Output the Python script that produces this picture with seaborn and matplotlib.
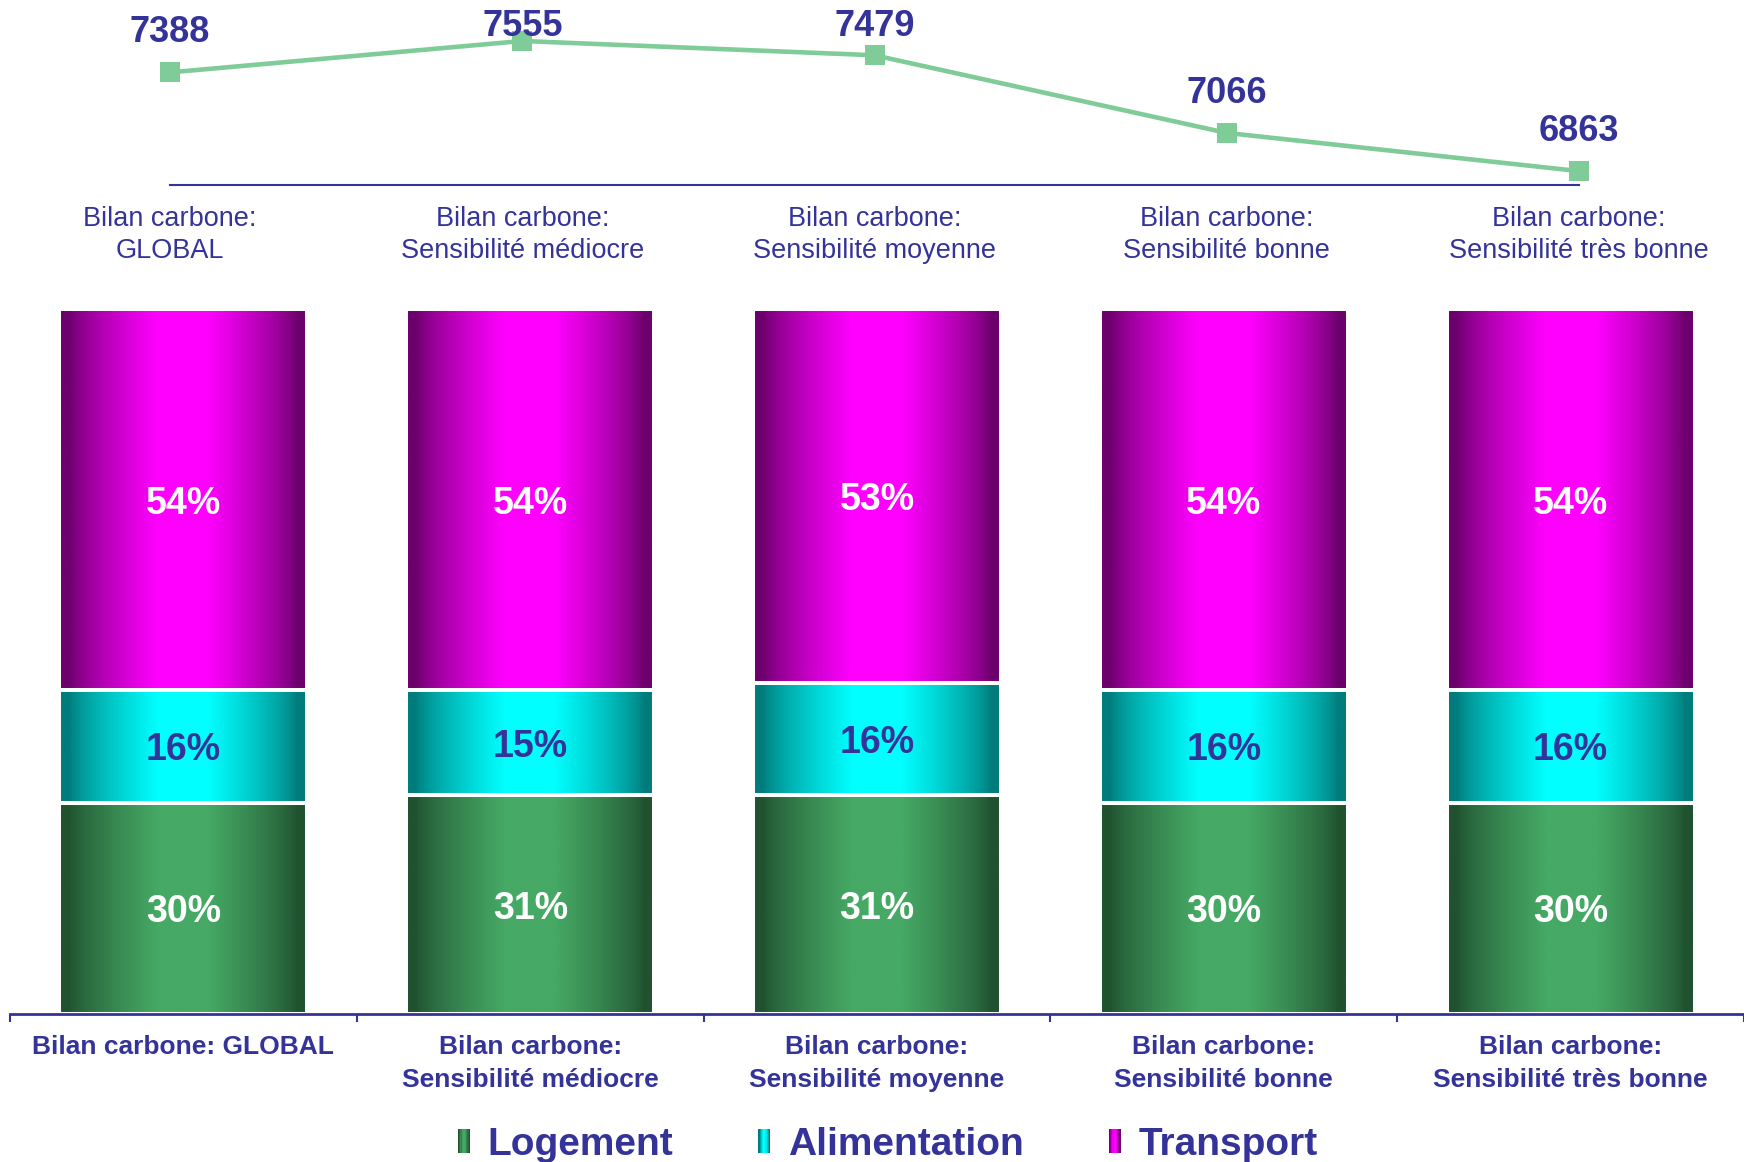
import numpy as np
import pandas as pd
import matplotlib
matplotlib.use("Agg")
import matplotlib.pyplot as plt
import seaborn as sns
from matplotlib.colors import to_rgb
from matplotlib.legend_handler import HandlerBase
from matplotlib.patches import Rectangle

# ---- data ----
group_keys = ["GLOBAL", "Médiocre", "Moyenne", "Bonne", "Très bonne"]
labels_top = ["Bilan carbone:\nGLOBAL",
              "Bilan carbone:\nSensibilité médiocre",
              "Bilan carbone:\nSensibilité moyenne",
              "Bilan carbone:\nSensibilité bonne",
              "Bilan carbone:\nSensibilité très bonne"]
labels_bottom = ["Bilan carbone: GLOBAL",
                 "Bilan carbone:\nSensibilité médiocre",
                 "Bilan carbone:\nSensibilité moyenne",
                 "Bilan carbone:\nSensibilité bonne",
                 "Bilan carbone:\nSensibilité très bonne"]
bilan_total = [7388, 7555, 7479, 7066, 6863]
logement = [30, 31, 31, 30, 30]
alimentation = [16, 15, 16, 16, 16]
transport = [54, 54, 53, 54, 54]
series_names = ["Logement", "Alimentation", "Transport"]

# ---- style ----
TXT = "#333399"
LINE = "#80CC99"
gradients = {
    "Logement": ("#205230", "#46A965"),
    "Alimentation": ("#007C7C", "#00FFFF"),
    "Transport": ("#6C006C", "#FF00FF"),
}
label_colors = {"Logement": "white", "Alimentation": TXT, "Transport": "white"}

sns.set_theme(style="white")
plt.rcParams["font.family"] = ["Liberation Sans", "DejaVu Sans"]


def shade(edge, center, n=256):
    """Horizontal cylinder-like shading: dark sides, bright middle."""
    e, c = np.array(to_rgb(edge)), np.array(to_rgb(center))
    x = np.linspace(0, 1, n)
    t = np.abs(x - 0.5) / 0.5
    s = np.clip((0.92 - t) / (0.92 - 0.2), 0, 1) ** 0.75
    return e + (c - e) * s[:, None]


W, H = 1744, 1162
fig = plt.figure(figsize=(W / 100, H / 100), dpi=100)

# ---- top panel: total carbon footprint line ----
ax_line = fig.add_axes([170 / W, 1 - 185 / H, (1579 - 170) / W, 185 / H])
df_line = pd.DataFrame({"pos": np.arange(len(bilan_total)), "total": bilan_total})
sns.lineplot(data=df_line, x="pos", y="total", ax=ax_line, color=LINE,
             linewidth=3.3, marker="s", markersize=14.5, markeredgewidth=0,
             clip_on=False)
ax_line.set_xlim(0, len(bilan_total) - 1)
ax_line.set_ylim(6789, 7773)
for sp in ["left", "right", "top"]:
    ax_line.spines[sp].set_visible(False)
ax_line.spines["bottom"].set_color(TXT)
ax_line.spines["bottom"].set_linewidth(1.5)
ax_line.set_yticks([])
ax_line.set_xticks(range(len(labels_top)))
ax_line.set_xticklabels(labels_top, fontsize=19.5, color=TXT, linespacing=1.32)
ax_line.tick_params(axis="x", length=0, pad=15)
ax_line.set_xlabel("")
ax_line.set_ylabel("")
for i, v in enumerate(bilan_total):
    ax_line.annotate(f"{v}", xy=(i, min(v + 234, 7656)), xytext=(0, -3),
                     textcoords="offset points", ha="center", va="center",
                     fontsize=26, fontweight="bold", color=TXT,
                     annotation_clip=False)

# ---- bottom panel: 100% stacked bars with shaded fill ----
ax_bar = fig.add_axes([10 / W, 1 - 1014 / H, 1734 / W, (1014 - 309) / H])
cum_alim = [a + b for a, b in zip(logement, alimentation)]
cum_trans = [a + b for a, b in zip(cum_alim, transport)]
layers = [("Transport", cum_trans, transport, cum_alim),
          ("Alimentation", cum_alim, alimentation, logement),
          ("Logement", logement, logement, [0] * len(logement))]

for k, (name, tops, shares, bottoms) in enumerate(layers):
    n0 = len(ax_bar.patches)
    df_bar = pd.DataFrame({"groupe": group_keys, "valeur": tops})
    sns.barplot(data=df_bar, x="groupe", y="valeur", ax=ax_bar, width=0.715,
                color=gradients[name][1], edgecolor="white", linewidth=2.9,
                order=group_keys)
    grad = shade(*gradients[name])[None, :, :]
    for p in ax_bar.patches[n0:]:
        x0, w = p.get_x(), p.get_width()
        y0, h = p.get_y(), p.get_height()
        im = ax_bar.imshow(grad, extent=(x0, x0 + w, y0, y0 + h),
                           aspect="auto", interpolation="bilinear",
                           zorder=1 + 0.2 * k)
        im.set_clip_path(p)
        p.set_facecolor("none")
        p.set_zorder(1.1 + 0.2 * k)
    for i, (s, b) in enumerate(zip(shares, bottoms)):
        ax_bar.annotate(f"{s}%", xy=(i, b + s / 2), xytext=(0, -3),
                        textcoords="offset points", ha="center", va="center",
                        fontsize=27, fontweight="bold",
                        color=label_colors[name], zorder=5)

ax_bar.set_xlim(-0.5, len(group_keys) - 0.5)
ax_bar.set_ylim(0, 100)
for sp in ["left", "right", "top"]:
    ax_bar.spines[sp].set_visible(False)
ax_bar.spines["bottom"].set_color(TXT)
ax_bar.spines["bottom"].set_linewidth(2)
ax_bar.set_yticks([])
ax_bar.set_xticks(range(len(labels_bottom)))
ax_bar.set_xticklabels(labels_bottom, fontsize=19, fontweight="bold",
                       color=TXT, linespacing=1.5)
ax_bar.set_xticks(np.arange(-0.5, len(group_keys)), minor=True)
ax_bar.tick_params(axis="x", which="major", length=0, pad=15)
ax_bar.tick_params(axis="x", which="minor", length=6, width=1.5,
                   color=TXT, direction="out", bottom=True)
ax_bar.set_xlabel("")
ax_bar.set_ylabel("")


# ---- legend with shaded swatches ----
class ShadedHandler(HandlerBase):
    def __init__(self, edge, center, n=10):
        super().__init__()
        self.cols = shade(edge, center, n)
        self.n = n

    def create_artists(self, legend, orig_handle, xdescent, ydescent,
                       width, height, fontsize, trans):
        arts = []
        for j in range(self.n):
            arts.append(Rectangle((-xdescent + width * j / self.n, -ydescent),
                                  width / self.n, height,
                                  facecolor=self.cols[j], edgecolor="none",
                                  transform=trans))
        return arts


handles = [Rectangle((0, 0), 1, 1) for _ in series_names]
hmap = {h: ShadedHandler(*gradients[nm]) for h, nm in zip(handles, series_names)}
leg = fig.legend(handles, series_names, handler_map=hmap, ncol=3,
                 loc="center", bbox_to_anchor=(0.509, 0.015), frameon=False,
                 prop={"size": 28, "weight": "bold"}, handlelength=0.3,
                 handleheight=0.55, handletextpad=0.45, columnspacing=2.2)
for t in leg.get_texts():
    t.set_color(TXT)

fig.savefig("out.png", dpi=100)
